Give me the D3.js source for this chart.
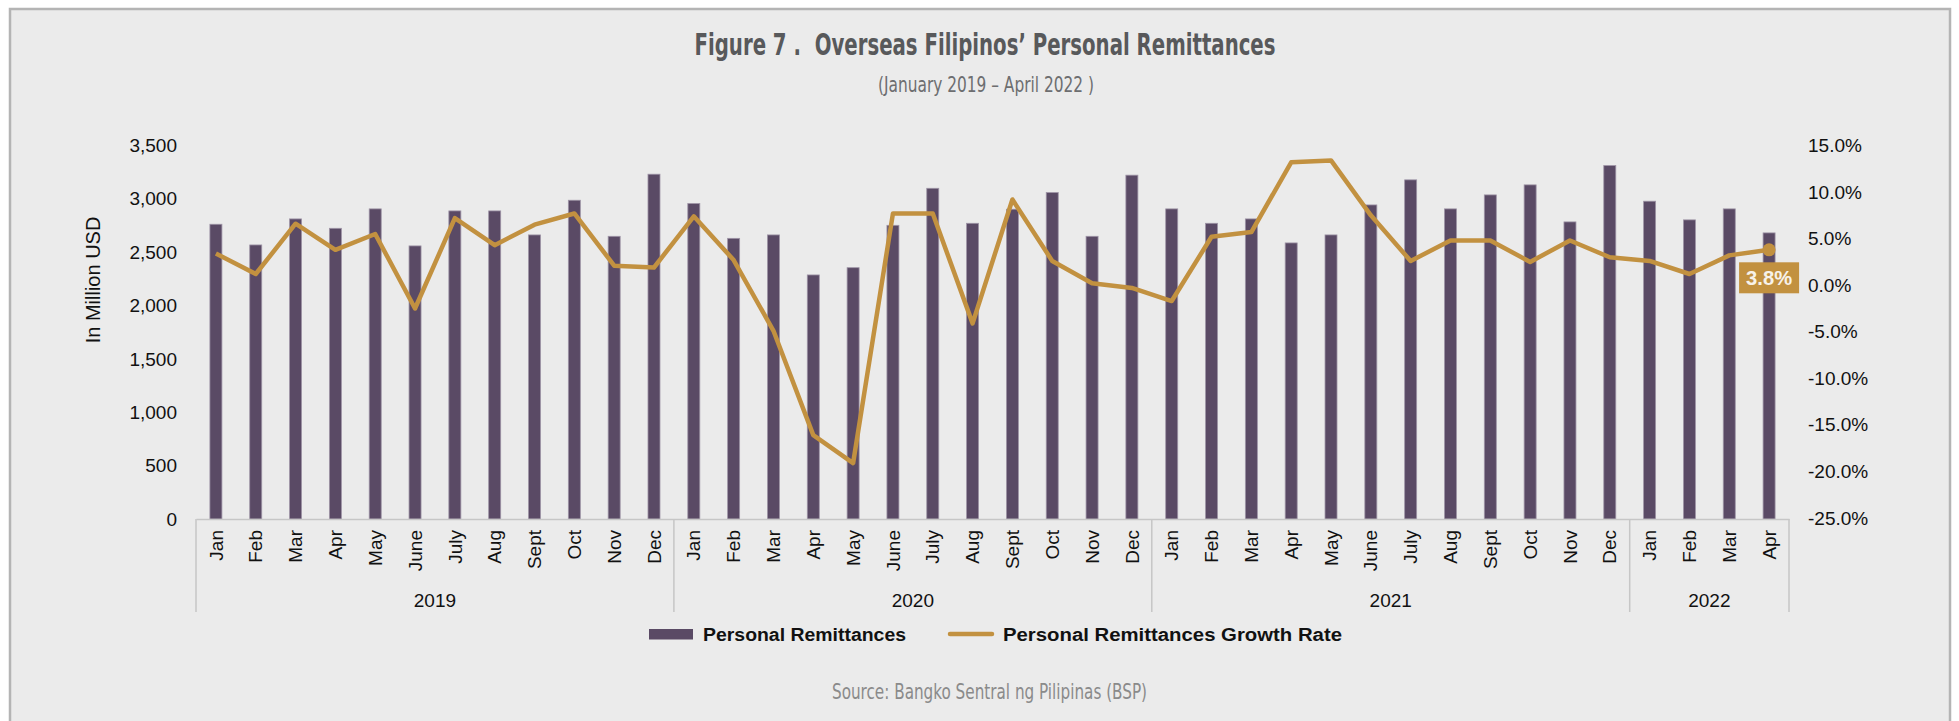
<!DOCTYPE html>
<html lang="en">
<head>
    <meta charset="UTF-8">
    <title>Overseas Filipinos' Personal Remittances</title>
    <style>
        body {
            margin: 0;
            background: #ffffff;
        }
        .chart text {
            font-family: "Liberation Sans", Arial, sans-serif;
            fill: #111;
        }
        .chart .cond {
            font-family: "Liberation Sans Narrow", "DejaVu Sans Condensed", "Roboto Condensed", Roboto, sans-serif;
            font-stretch: condensed;
        }
        .bar {
            fill: #5a4a65;
            stroke: #9e94a6;
            stroke-width: 0.8;
        }
        .growth {
            fill: none;
            stroke: #c29140;
            stroke-width: 4.5;
            stroke-linejoin: round;
        }
    </style>
</head>
<body>
    <div class="chart"></div>
    <script src="https://d3js.org/d3.v7.min.js"></script>
    <script>
        // month labels, Jan 2019 - Apr 2022
        const monthLabels = [
            "Jan", "Feb", "Mar", "Apr", "May", "June", "July", "Aug", "Sept", "Oct", "Nov", "Dec",
            "Jan", "Feb", "Mar", "Apr", "May", "June", "July", "Aug", "Sept", "Oct", "Nov", "Dec",
            "Jan", "Feb", "Mar", "Apr", "May", "June", "July", "Aug", "Sept", "Oct", "Nov", "Dec",
            "Jan", "Feb", "Mar", "Apr"
        ];
        const yearLabels = ["2019", "2020", "2021", "2022"];
        const monthsPerYear = [12, 12, 12, 4];

        // personal remittances, million USD
        const remittances = [
            2762, 2568, 2812, 2724, 2906, 2559, 2887, 2887, 2662, 2987, 2649, 3231,
            2956, 2630, 2662, 2287, 2355, 2752, 3099, 2771, 2903, 3059, 2649, 3222,
            2906, 2771, 2812, 2587, 2662, 2943, 3178, 2906, 3037, 3131, 2784, 3312,
            2978, 2803, 2906, 2681
        ];
        // growth rate, percent
        const growthRate = [
            3.4, 1.2, 6.6, 3.8, 5.5, -2.5, 7.2, 4.3, 6.5, 7.7, 2.1, 1.9,
            7.4, 2.7, -4.9, -16.1, -19.1, 7.7, 7.7, -4.1, 9.2, 2.6, 0.2, -0.3,
            -1.7, 5.2, 5.7, 13.2, 13.4, 7.5, 2.6, 4.8, 4.8, 2.5, 4.8, 3.0,
            2.6, 1.2, 3.2, 3.8
        ];

        const leftTicks = [0, 500, 1000, 1500, 2000, 2500, 3000, 3500];
        const rightTicks = [-25, -20, -15, -10, -5, 0, 5, 10, 15];

        const width = 1959;
        const height = 721;
        const plotLeft = 196, plotRight = 1789;
        const plotTop = 145.5, plotBottom = 519;

        const svg = d3.select(".chart").append("svg")
            .attr("width", width)
            .attr("height", height);

        // frame
        svg.append("rect")
            .attr("x", 10).attr("y", 9)
            .attr("width", 1940).attr("height", 740)
            .attr("fill", "#ebebeb")
            .attr("stroke", "#b4b4b4")
            .attr("stroke-width", 2.5);

        // titles
        svg.append("text").attr("class", "cond")
            .attr("x", 985).attr("y", 55)
            .attr("text-anchor", "middle")
            .attr("textLength", 581).attr("lengthAdjust", "spacingAndGlyphs")
            .style("font-size", "31px").style("font-weight", "bold").style("fill", "#58595b")
            .text("Figure 7 .\u00a0\u00a0Overseas Filipinos\u2019 Personal Remittances");
        svg.append("text").attr("class", "cond")
            .attr("x", 986).attr("y", 92)
            .attr("text-anchor", "middle")
            .attr("textLength", 216).attr("lengthAdjust", "spacingAndGlyphs")
            .style("font-size", "21px").style("fill", "#6d6e70")
            .text("(January 2019 \u2013 April 2022 )");

        const idx = d3.range(monthLabels.length);
        const x = d3.scaleBand()
            .domain(idx)
            .range([plotLeft, plotRight]);
        const yLeft = d3.scaleLinear()
            .domain([0, 3500])
            .range([plotBottom, plotTop]);
        const yRight = d3.scaleLinear()
            .domain([-25, 15])
            .range([plotBottom - 1, plotTop]);

        // y axes
        const leftAxis = svg.append("g")
            .attr("transform", "translate(177,0)")
            .call(d3.axisLeft(yLeft).tickValues(leftTicks).tickFormat(d3.format(",")).tickSize(0).tickPadding(0));
        const rightAxis = svg.append("g")
            .attr("transform", "translate(1808,0)")
            .call(d3.axisRight(yRight).tickValues(rightTicks).tickFormat(d => d.toFixed(1) + "%").tickSize(0).tickPadding(0));
        [leftAxis, rightAxis].forEach(g => {
            g.select(".domain").remove();
            g.selectAll("text").style("font-size", "19px").style("font-family", "'Liberation Sans', Arial, sans-serif").attr("fill", "#111");
        });

        svg.append("text")
            .attr("transform", "translate(100,280) rotate(-90)")
            .attr("text-anchor", "middle")
            .style("font-size", "20px")
            .text("In Million USD");

        // bars
        const barW = 12;
        svg.selectAll("rect.bar")
            .data(remittances)
            .enter()
            .append("rect")
            .attr("class", "bar")
            .attr("x", (d, i) => x(i) + x.bandwidth() / 2 - barW / 2)
            .attr("y", d => yLeft(d))
            .attr("width", barW)
            .attr("height", d => yLeft(0) - yLeft(d));

        // category axis
        const xAxis = svg.append("g")
            .attr("transform", "translate(0," + plotBottom + ")")
            .call(d3.axisBottom(x).tickSize(0).tickFormat(i => monthLabels[i]));
        xAxis.select(".domain").attr("stroke", "#c6c6c6").attr("stroke-width", 1.5);
        xAxis.selectAll("text")
            .attr("transform", "rotate(-90)")
            .attr("x", -11)
            .attr("y", 0)
            .attr("dy", "0.35em")
            .attr("text-anchor", "end")
            .style("font-size", "19px")
            .style("font-family", "'Liberation Sans', Arial, sans-serif")
            .attr("fill", "#111");

        // year groups
        let start = 0;
        const groups = monthsPerYear.map((n, k) => {
            const g = { year: yearLabels[k], from: start, to: start + n - 1 };
            start += n;
            return g;
        });
        const edges = [plotLeft].concat(groups.map(g => x(g.to) + x.bandwidth()));
        svg.selectAll("line.divider")
            .data(edges)
            .enter()
            .append("line")
            .attr("class", "divider")
            .attr("x1", d => d).attr("x2", d => d)
            .attr("y1", plotBottom).attr("y2", 612)
            .attr("stroke", "#c6c6c6")
            .attr("stroke-width", 1.5);
        svg.selectAll("text.year")
            .data(groups)
            .enter()
            .append("text")
            .attr("class", "year")
            .attr("x", g => (x(g.from) + x(g.to) + x.bandwidth()) / 2)
            .attr("y", 607)
            .attr("text-anchor", "middle")
            .style("font-size", "19px")
            .text(g => g.year);

        // growth line
        const line = d3.line()
            .x((d, i) => x(i) + x.bandwidth() / 2)
            .y(d => yRight(d));
        svg.append("path")
            .datum(growthRate)
            .attr("class", "growth")
            .attr("d", line);

        // last point marker and label
        const last = growthRate.length - 1;
        const cx = x(last) + x.bandwidth() / 2;
        const cy = yRight(growthRate[last]);
        svg.append("circle")
            .attr("cx", cx).attr("cy", cy).attr("r", 6.5)
            .attr("fill", "#c29140");
        svg.append("rect")
            .attr("x", cx - 30).attr("y", cy + 12.5)
            .attr("width", 60).attr("height", 31)
            .attr("fill", "#c29140");
        svg.append("text")
            .attr("x", cx).attr("y", cy + 35.5)
            .attr("text-anchor", "middle")
            .attr("textLength", 46).attr("lengthAdjust", "spacingAndGlyphs")
            .style("font-size", "20px").style("font-weight", "bold")
            .style("fill", "#f7f2ea")
            .text(growthRate[last].toFixed(1) + "%");

        // legend
        svg.append("rect")
            .attr("x", 649).attr("y", 629)
            .attr("width", 44).attr("height", 10.5)
            .attr("fill", "#5a4a65");
        svg.append("text")
            .attr("x", 703).attr("y", 641)
            .attr("textLength", 203).attr("lengthAdjust", "spacingAndGlyphs")
            .style("font-size", "18px").style("font-weight", "bold")
            .text("Personal Remittances");
        svg.append("line")
            .attr("x1", 950).attr("x2", 992)
            .attr("y1", 634).attr("y2", 634)
            .attr("stroke", "#c29140")
            .attr("stroke-width", 4.5)
            .attr("stroke-linecap", "round");
        svg.append("text")
            .attr("x", 1003).attr("y", 641)
            .attr("textLength", 339).attr("lengthAdjust", "spacingAndGlyphs")
            .style("font-size", "18px").style("font-weight", "bold")
            .text("Personal Remittances Growth Rate");

        // source
        svg.append("text").attr("class", "cond")
            .attr("x", 832).attr("y", 699)
            .attr("textLength", 315).attr("lengthAdjust", "spacingAndGlyphs")
            .style("font-size", "21px").style("fill", "#8a8a8a")
            .text("Source: Bangko Sentral ng Pilipinas (BSP)");
    </script>
</body>
</html>
